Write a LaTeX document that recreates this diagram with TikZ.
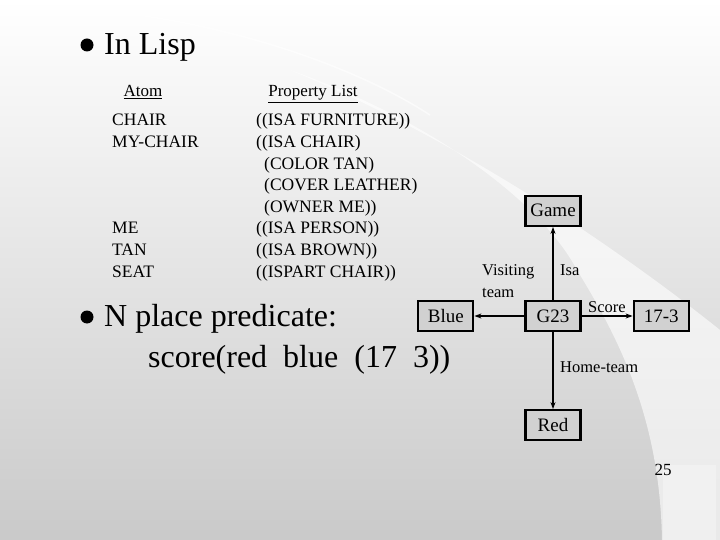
\documentclass[tikz,border=0pt]{standalone}
\usepackage{fontspec}
\setmainfont{Liberation Serif}
\usetikzlibrary{arrows.meta,positioning}

\tikzset{
  box/.style={draw, line width=2.2bp, fill=black!18, minimum width=55bp, minimum height=30bp, inner sep=3bp, font=\fontsize{19bp}{22bp}\selectfont},
  arr/.style={line width=1.7bp, -{Stealth[length=7bp,width=5bp]}},
  lbl/.style={font=\fontsize{16.5bp}{22bp}\selectfont, inner sep=0pt},
  row/.style={font=\fontsize{17.5bp}{20bp}\selectfont, anchor=base west, inner sep=0pt},
  hdr/.style={font=\fontsize{17bp}{20bp}\selectfont, anchor=base, inner sep=0pt},
  big/.style={font=\fontsize{32bp}{38bp}\selectfont, anchor=base west, inner sep=0pt},
}

\begin{document}
\begin{tikzpicture}[x=1bp, y=-1bp]
\useasboundingbox (0,0) rectangle (720,540);
% Sfondo
\shade[top color=white, bottom color=black!21] (0,0) rectangle (720,540);
\fill[white, opacity=0.6] (290,70) .. controls (430,120) and (540,200) .. (577,270)
  .. controls (620,340) and (660,420) .. (662,540) -- (720,540) -- (720,330)
  .. controls (620,250) and (460,140) .. (290,70);
\fill[white, opacity=0.3] (663,465) rectangle (716,540);
\draw[white, line width=1.5bp, opacity=0.6] (0,8) .. controls (150,0) and (330,50) .. (430,115);

% Punti elenco
\fill (87,45) circle (6.5bp);
\fill (87,317) circle (6.5bp);
\node[big] (lisp) at (104,55) {In Lisp};
\node[big] (npred) at (104,326) {N place predicate:};
\node[big] (pred) at (148,367) {score(red\ \ blue\ \ (17\ \ 3))};

% Tabella atomi
\node[hdr] (atom) at (143,97) {\underline{Atom}};
\node[hdr] (plist) at (313,97) {\underline{Property List}};
\foreach \n/\y/\lab in {1/126/CHAIR, 2/147.6/MY-CHAIR, 6/234/ME, 7/255.6/TAN, 8/277.2/SEAT}{
  \node[row] (atom\n) at (112,\y) {\lab};
}
\foreach \n/\x/\y/\lab in {1/256/126/{((ISA FURNITURE))}, 2/256/147.6/{((ISA CHAIR)},
    3/264/169.2/{(COLOR TAN)}, 4/264/190.8/{(COVER LEATHER)}, 5/264/212.4/{(OWNER ME))},
    6/256/234/{((ISA PERSON))}, 7/256/255.6/{((ISA BROWN))}, 8/256/277.2/{((ISPART CHAIR))}}{
  \node[row] (prop\n) at (\x,\y) {\lab};
}

% Rete semantica
\node[box] (g23) at (553,316) {G23};
\node[box, above=73bp of g23] (game) {Game};
\node[box, left=50bp of g23] (blue) {Blue};
\node[box, right=51bp of g23] (res) {17-3};
\node[box, below=77bp of g23] (red) {Red};
\draw[arr] (g23) -- (game);
\draw[arr] (g23) -- (blue);
\draw[arr] (g23) -- (res);
\draw[arr] (g23) -- (red);
\node[lbl, align=left, anchor=west] (visit) at (482,281) {Visiting\\team};
\node[lbl, anchor=west] (isa) at (560,270) {Isa};
\node[lbl, anchor=west] (scr) at (588,307) {Score};
\node[lbl, anchor=west] (home) at (560,367) {Home-team};

\node[font=\fontsize{17bp}{20bp}\selectfont] (page) at (663,470) {25};
\end{tikzpicture}
\end{document}
